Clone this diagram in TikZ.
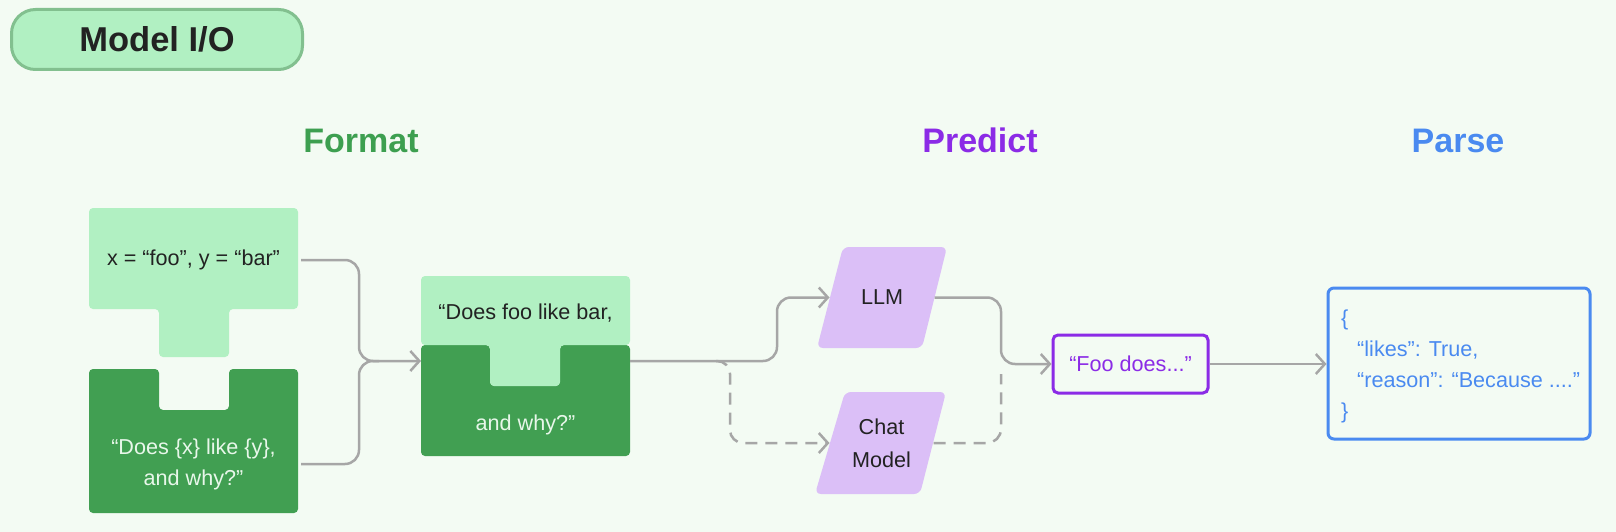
\documentclass[tikz,border=0pt]{standalone}
\usepackage{fontspec}
\setmainfont{Liberation Sans}
\usetikzlibrary{arrows.meta}
\definecolor{bgc}{HTML}{F3FBF3}
\definecolor{lightg}{HTML}{B1F0C2}
\definecolor{darkg}{HTML}{419F52}
\definecolor{headg}{HTML}{3D9F50}
\definecolor{purp}{HTML}{8B2BE6}
\definecolor{bluec}{HTML}{4A8AF0}
\definecolor{lav}{HTML}{DBBFF7}
\definecolor{lgray}{HTML}{A6A6A6}
\definecolor{pillb}{HTML}{82C08F}
\definecolor{tdark}{HTML}{222222}
\definecolor{tlight}{HTML}{E8F7EA}
\begin{document}
\begin{tikzpicture}[x=1pt,y=-1pt,
  body/.style={font=\fontsize{21.6}{31}\selectfont},
  head/.style={font=\fontsize{34}{40}\selectfont\bfseries, anchor=base},
  anchorbox/.style={inner sep=0pt, outer sep=0pt},
  conn/.style={draw=lgray, line width=2.5pt, rounded corners=14pt,
    -{Straight Barb[length=9pt,width=20pt]}},
  dconn/.style={conn, dashed, dash pattern=on 12pt off 8pt},
  plainline/.style={draw=lgray, line width=2.5pt, rounded corners=14pt},
  dline/.style={plainline, dash pattern=on 12pt off 8pt},
  piece/.style={rounded corners=4pt},
  para/.style={fill=lav, rounded corners=6pt}
]
\useasboundingbox (0,0) rectangle (1616,532);
\fill[bgc] (0,0) rectangle (1616,532);

% title pill
\node[draw=pillb, fill=lightg, line width=3pt, rounded corners=24pt,
  minimum width=291pt, minimum height=60pt,
  font=\fontsize{34.5}{40}\selectfont\bfseries, text=tdark] (title) at (157,39.5) {Model I/O};

% headings
\node[head, text=headg] (hformat) at (361,152) {Format};
\node[head, text=purp] (hpredict) at (980,152) {Predict};
\node[head, text=bluec] (hparse) at (1458,152) {Parse};

% piece 1 (variables)
\fill[lightg, piece] (89,208) -- (298,208) -- (298,309) -- (229,309) -- (229,357)
  -- (159,357) -- (159,309) -- (89,309) -- cycle;
% piece 2 (template)
\fill[darkg, piece] (89,369) -- (159,369) -- (159,410) -- (229,410) -- (229,369)
  -- (298,369) -- (298,513) -- (89,513) -- cycle;
% combined prompt
\fill[darkg, piece] (421,345) -- (490,345) -- (490,386) -- (560,386) -- (560,345)
  -- (630,345) -- (630,456) -- (421,456) -- cycle;
\fill[lightg, piece] (421,276) -- (630,276) -- (630,345) -- (560,345) -- (560,386)
  -- (490,386) -- (490,345) -- (421,345) -- cycle;

% parallelograms
\fill[para] (843,247) -- (947,247) -- (922,348) -- (817,348) -- cycle;
\fill[para] (845,392) -- (946,392) -- (920,494) -- (815,494) -- cycle;

% anchor / text nodes
\node[anchorbox, body, text=tdark, minimum width=209pt, minimum height=40pt] (vars) at (193.5,260) {x = “foo”, y = “bar”};
\node[anchorbox, body, text=tlight, align=center, minimum width=209pt] (tmpl) at (193.5,464) {“Does \{x\} like \{y\},\\and why?”};
\node[anchorbox, minimum width=209pt, minimum height=40pt] (prompt) at (525.5,361) {};
\node[body, text=tdark, anchor=base] (ptop) at (525.5,319) {“Does foo like bar,};
\node[body, text=tlight, anchor=base] (pbot) at (525.5,430) {and why?”};
\node[anchorbox, body, text=tdark, minimum width=105pt, minimum height=101pt] (llm) at (882,297.5) {LLM};
\node[anchorbox, body, text=tdark, align=center, minimum width=104pt, minimum height=102pt, font=\fontsize{21.6}{33}\selectfont] (chat) at (881.5,443) {Chat\\Model};
\node[draw=purp, line width=3pt, rounded corners=5pt, fill=bgc, body, text=purp,
  minimum width=155pt, minimum height=58pt, inner sep=0pt] (foo) at (1130.5,364) {“Foo does...”};
\node[draw=bluec, line width=3pt, rounded corners=6pt, fill=bgc,
  minimum width=262pt, minimum height=151pt, inner sep=0pt] (parse) at (1459,363.5) {};
\node[anchor=west, inner sep=0pt, align=left, body, text=bluec] (ptext) at (1341,366)
  {\{\\\hspace*{16pt}“likes”: True,\\\hspace*{16pt}“reason”: “Because ....”\\\}};

% connectors
\coordinate (m) at (359,361);
\coordinate (split) at (777,361);
\coordinate (dstart) at (716,361);
\coordinate (dcol) at (730,361);
\coordinate (join) at (1001,364);
\coordinate (joinb) at (1001,374);

\draw[conn, shorten <=3pt] (vars.east) -| (m) -- (m -| prompt.west);
\draw[plainline, shorten <=3pt] (tmpl.east) -| (m) -- ([xshift=20pt]m);
\draw[conn] (prompt.east) -- (split) -- (split |- llm.west) -- (llm.west);
\draw[dconn, rounded corners=13pt] (dstart) -- (dcol) -- (dcol |- chat.west) -- (chat.west);
\draw[conn] (llm.east) -| (join) -- (foo.west);
\draw[dline] (chat.east) -| (joinb);
\draw[conn] (foo.east) -- (parse.west |- foo.east);
\end{tikzpicture}
\end{document}
